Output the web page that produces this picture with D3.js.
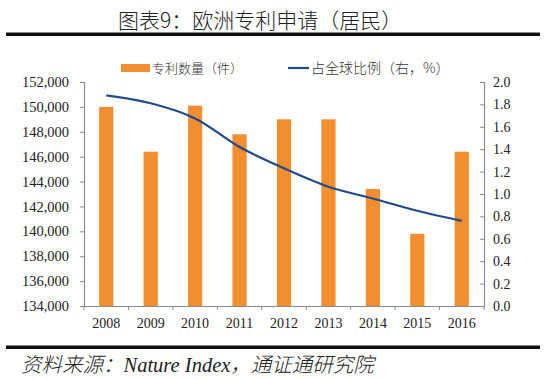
<!DOCTYPE html>
<html>
<head>
<meta charset="utf-8">
<script src="https://cdn.jsdelivr.net/npm/d3@7"></script>
<style>
  body { margin: 0; background: #fff; }
  svg { display: block; }
</style>
</head>
<body>
<div id="chart"></div>
<script>
// data
const years = ["2008", "2009", "2010", "2011", "2012", "2013", "2014", "2015", "2016"];
const patents = [150000, 146400, 150100, 147800, 149000, 149000, 143400, 139800, 146400];
const share = [1.88, 1.81, 1.675, 1.42, 1.23, 1.065, 0.96, 0.85, 0.76];
const leftTicks = [134000, 136000, 138000, 140000, 142000, 144000, 146000, 148000, 150000, 152000];
const rightTicks = [0, 0.2, 0.4, 0.6, 0.8, 1.0, 1.2, 1.4, 1.6, 1.8, 2.0];

const width = 550;
const height = 380;
const plotLeft = 84, plotRight = 484, plotTop = 82, plotBottom = 306;

const orange = "#F28E2F";
const blue = "#1F4A8E";
const grey = "#8c8c8c";
const serif = "'Liberation Serif', 'Times New Roman', serif";
const cjk = "'Noto Sans CJK SC', sans-serif";

const svg = d3.select("#chart")
  .append("svg")
  .attr("width", width)
  .attr("height", height);

// title + rules
svg.append("text")
  .attr("x", 118)
  .attr("y", 28)
  .attr("font-family", cjk)
  .attr("font-weight", 300)
  .attr("font-size", 21)
  .attr("fill", "#222")
  .text("图表9：欧洲专利申请（居民）");

svg.append("rect").attr("x", 6).attr("y", 32.5).attr("width", 534).attr("height", 3.5).attr("fill", "#111");
svg.append("rect").attr("x", 6).attr("y", 345.5).attr("width", 534).attr("height", 3.5).attr("fill", "#111");

svg.append("text")
  .attr("x", 21)
  .attr("y", 372)
  .attr("font-family", serif + ", " + cjk)
  .attr("font-style", "italic")
  .attr("font-weight", 300)
  .attr("font-size", 20.5)
  .attr("fill", "#222")
  .text("资料来源：Nature Index，通证通研究院");

// scales
const x = d3.scaleBand().domain(years).range([plotLeft, plotRight]).paddingInner(0.68).paddingOuter(0.34);
const xb = d3.scaleBand().domain(years).range([plotLeft, plotRight]);
const yL = d3.scaleLinear().domain([134000, 152000]).range([plotBottom, plotTop]);
const yR = d3.scaleLinear().domain([0, 2]).range([plotBottom, plotTop]);

// bars
svg.append("g")
  .selectAll("rect")
  .data(years)
  .enter()
  .append("rect")
  .attr("x", d => x(d))
  .attr("width", x.bandwidth())
  .attr("y", (d, i) => yL(patents[i]))
  .attr("height", (d, i) => plotBottom - yL(patents[i]))
  .attr("fill", orange);

// line
const line = d3.line()
  .x((d, i) => xb(years[i]) + xb.bandwidth() / 2)
  .y(d => yR(d))
  .curve(d3.curveCatmullRom.alpha(0.5));

svg.append("path")
  .datum(share)
  .attr("d", line)
  .attr("fill", "none")
  .attr("stroke", blue)
  .attr("stroke-width", 2.2);

// axes
const leftAxis = svg.append("g")
  .attr("transform", `translate(${plotLeft},0)`)
  .call(d3.axisLeft(yL).tickValues(leftTicks).tickFormat(d3.format(",")).tickSize(4).tickPadding(11));

const rightAxis = svg.append("g")
  .attr("transform", `translate(${plotRight},0)`)
  .call(d3.axisRight(yR).tickValues(rightTicks).tickFormat(d3.format(".1f")).tickSize(-4).tickPadding(9));

const bottomAxis = svg.append("g")
  .attr("transform", `translate(0,${plotBottom})`)
  .call(d3.axisBottom(xb).tickSize(0).tickPadding(12));

// x tick marks at band edges
svg.append("g")
  .selectAll("line")
  .data(years.concat(["end"]))
  .enter()
  .append("line")
  .attr("x1", (d, i) => plotLeft + i * xb.step())
  .attr("x2", (d, i) => plotLeft + i * xb.step())
  .attr("y1", plotBottom)
  .attr("y2", plotBottom + 4)
  .attr("stroke", grey);

[leftAxis, rightAxis, bottomAxis].forEach(g => {
  g.select(".domain").attr("stroke", grey).attr("stroke-width", 1.2);
  g.selectAll(".tick line").attr("stroke", grey);
  g.selectAll("text")
    .attr("font-family", serif)
    .attr("font-size", 14)
    .attr("fill", "#222");
});
leftAxis.selectAll("text").attr("font-size", 14.5);

// legend
const legend = svg.append("g").attr("class", "legend");
legend.append("rect").attr("x", 121).attr("y", 64).attr("width", 29).attr("height", 8).attr("fill", orange);
legend.append("text").attr("x", 152).attr("y", 73).attr("font-family", cjk).attr("font-weight", 300).attr("font-size", 13).attr("fill", "#333").text("专利数量（件）");
legend.append("line").attr("x1", 288).attr("x2", 309).attr("y1", 68).attr("y2", 68).attr("stroke", blue).attr("stroke-width", 2.2);
legend.append("text").attr("x", 311).attr("y", 73).attr("font-family", cjk).attr("font-weight", 300).attr("font-size", 14).attr("fill", "#333").text("占全球比例（右，%）");
</script>
</body>
</html>
